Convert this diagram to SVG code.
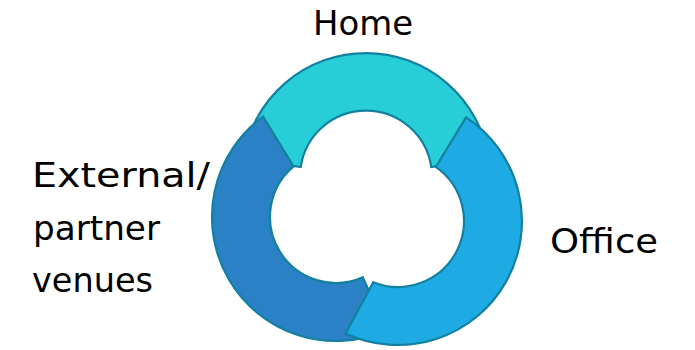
<svg xmlns="http://www.w3.org/2000/svg" width="695" height="350" viewBox="0 0 695 350">
<style>
.seg{stroke:#13809F;stroke-width:2.2;stroke-linejoin:miter}
.lbl{font-family:"DejaVu Sans","Liberation Sans",sans-serif;font-size:34px;fill:#000}
</style>
<rect width="695" height="350" fill="#fff"/>
<g id="home">
<path class="seg" fill="#27CDD7" d="M243.4,158.5 A124,124 0 0 1 488.6,158.5 L431.3,167.1 A66,66 0 0 0 300.7,167.1 Z"/>
<text class="lbl" x="313" y="35" textLength="100" lengthAdjust="spacingAndGlyphs">Home</text>
</g>
<g id="external">
<path class="seg" fill="#2A81C6" d="M386.4,330.3 A124,124 0 0 1 263.1,116.7 L293.6,166.4 A66,66 0 0 0 362.8,277.3 Z"/>
<text class="lbl" x="32" y="187" textLength="178" lengthAdjust="spacingAndGlyphs">External/</text>
<text class="lbl" x="33" y="240" textLength="127" lengthAdjust="spacingAndGlyphs">partner</text>
<text class="lbl" x="32" y="292" textLength="121" lengthAdjust="spacingAndGlyphs">venues</text>
</g>
<g id="office">
<path class="seg" fill="#1EABE3" d="M466.1,117.4 A124,124 0 0 1 345.6,333.4 L373.3,282.2 A66,66 0 0 0 435.8,166.9 Z"/>
<text class="lbl" x="550" y="253" textLength="108" lengthAdjust="spacingAndGlyphs">Office</text>
</g>
<g id="connectors"/>
</svg>
